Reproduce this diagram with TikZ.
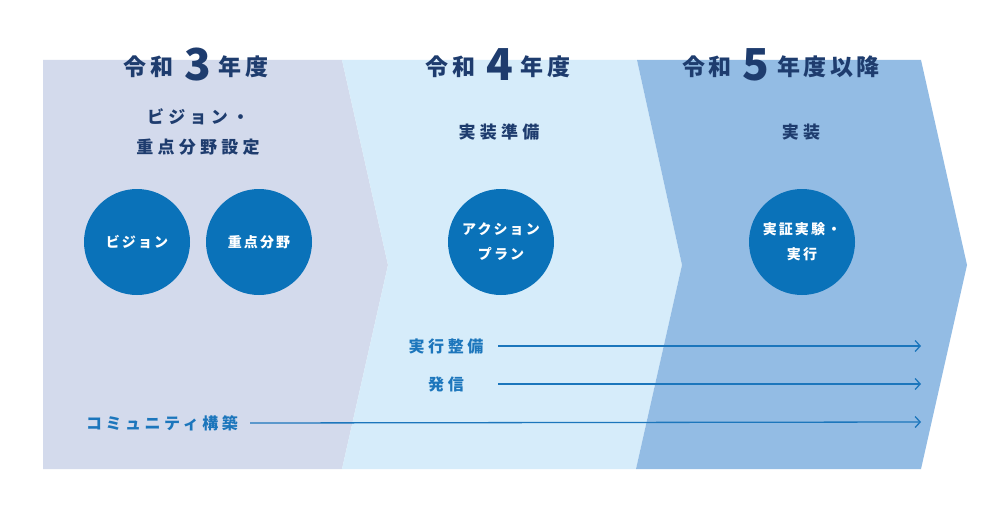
\documentclass[tikz,border=0pt]{standalone}
\usepackage{fontspec}
\setmainfont{Noto Sans CJK JP}
\newfontfamily\jpA{Noto Sans CJK JP}[LetterSpace=14]
\newfontfamily\jpB{Noto Sans CJK JP}[LetterSpace=25]
\newfontfamily\jpC{Noto Sans CJK JP}[LetterSpace=15]
\newfontfamily\jpD{Noto Sans CJK JP}[LetterSpace=22]
\newfontfamily\jpN{Noto Sans CJK JP}
\usetikzlibrary{arrows.meta}
\definecolor{pA}{HTML}{D3DAEC}
\definecolor{pB}{HTML}{D6ECFA}
\definecolor{pC}{HTML}{93BCE4}
\definecolor{circ}{HTML}{0A72B9}
\definecolor{navy}{HTML}{1E3C6E}
\definecolor{lbl}{HTML}{1C76BC}
\tikzset{
  title/.style={anchor=base, text=navy, inner sep=0pt, font=\jpA\bfseries\fontsize{23}{26}\selectfont},
  sub/.style={text=navy, inner sep=0pt, align=center, font=\jpB\bfseries\fontsize{17}{30}\selectfont},
  bubble/.style={circle, fill=circ, minimum size=106pt, inner sep=0pt, text=white, align=center, font=\jpC\bfseries\fontsize{14}{25}\selectfont},
  lab/.style={text=lbl, inner sep=0pt, font=\jpD\bfseries\fontsize{16}{18}\selectfont},
  flow/.style={draw=lbl, line width=1.3pt, -{Straight Barb[length=5pt,width=11pt,line width=1.3pt]}}
}
\newcommand{\bignum}[1]{\hspace{11pt}\raisebox{-5pt}{\jpN\bfseries\fontsize{44}{44}\selectfont #1}\hspace{8pt}}
\begin{document}
\begin{tikzpicture}[x=1pt,y=-1pt]
\useasboundingbox[fill=white] (0,0) rectangle (1000,508);
\fill[pA] (43,60) -- (342,60) -- (388,265) -- (342,469) -- (43,469) -- cycle;
\fill[pB] (342,60) -- (637,60) -- (682,265) -- (636,469) -- (342,469) -- (388,265) -- cycle;
\fill[pC] (637,60) -- (921,60) -- (967,265) -- (921,469) -- (636,469) -- (682,265) -- cycle;

\node[title] (t1) at (196,76) {令和\bignum{3}年度};
\node[title] (t2) at (498,76) {令和\bignum{4}年度};
\node[title] (t3) at (781,76) {令和\bignum{5}年度以降};

\node[sub] (s1) at (198,132) {ビジョン・\\重点分野設定};
\node[sub] (s2) at (499,132) {実装準備};
\node[sub] (s3) at (801,132) {実装};

\node[bubble] (c1) at (137,242) {ビジョン};
\node[bubble] (c2) at (259,242) {重点分野};
\node[bubble] (c3) at (501,242) {アクション\\プラン};
\node[bubble] (c4) at (802,242) {実証実験・\\実行};

\node[lab] (l1) at (446,346) {実行整備};
\node[lab] (l2) at (446,384) {発信};
\node[lab] (l3) at (162,423) {コミュニティ構築};
\coordinate (e1) at (921,346);
\coordinate (e2) at (921,384);
\coordinate (e3) at (921,422);
\coordinate (b1) at (498,346);
\coordinate (b2) at (498,384);
\draw[flow] (b1) -- (e1);
\draw[flow] (b2) -- (e2);
\draw[flow] (l3.east) ++(12,0) coordinate (b3) -- (e3);
\end{tikzpicture}
\end{document}
